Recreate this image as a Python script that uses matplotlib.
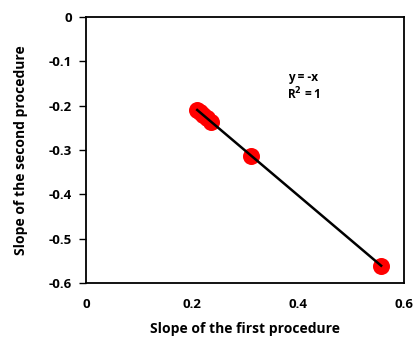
import matplotlib
matplotlib.use("Agg")
import numpy as np
import matplotlib.pyplot as plt

plt.rcParams['font.family'] = ['Open Sans', 'DejaVu Sans']

# slopes from the two procedures
first_slope = [0.210, 0.215, 0.221, 0.228, 0.236, 0.312, 0.557]
second_slope = [-0.210, -0.215, -0.221, -0.228, -0.236, -0.314, -0.561]
x_ticks = [0, 0.2, 0.4, 0.6]
y_ticks = [0, -0.1, -0.2, -0.3, -0.4, -0.5, -0.6]

fig = plt.figure(figsize=(4.13, 3.38), dpi=100)
ax = fig.add_axes([0.208, 0.163, 0.77, 0.787])

ax.scatter(first_slope, second_slope, s=150, c='#ff0000', zorder=2, linewidths=0)

# linear fit y = -x over data range
fit = np.polyfit(first_slope, second_slope, 1)
xx = np.array([min(first_slope), max(first_slope)])
ax.plot(xx, np.polyval(fit, xx), c='black', lw=1.8, zorder=3)

ax.text(0.382, -0.145, 'y = -x', fontsize=8.5, fontweight='bold')
ax.text(0.38, -0.185, 'R$^\\mathbf{2}$ = 1', fontsize=8.5, fontweight='bold')

ax.set_xlim(0, 0.6)
ax.set_ylim(-0.6, 0)
ax.set_xticks(x_ticks)
ax.set_xticklabels(['0', '0.2', '0.4', '0.6'])
ax.set_yticks(y_ticks)
ax.set_yticklabels(['0', '-0.1', '-0.2', '-0.3', '-0.4', '-0.5', '-0.6'])
ax.tick_params(axis='x', length=0, pad=11, labelsize=9.5)
ax.tick_params(axis='y', length=5, width=1, pad=5, labelsize=9.5)
for lab in ax.get_xticklabels() + ax.get_yticklabels():
    lab.set_fontweight('bold')
for s in ax.spines.values():
    s.set_linewidth(1.3)

ax.set_xlabel('Slope of the first procedure', fontsize=10, fontweight='bold', labelpad=8)
ax.set_ylabel('Slope of the second procedure', fontsize=10, fontweight='bold', labelpad=15)

fig.savefig('out.png', dpi=100)
